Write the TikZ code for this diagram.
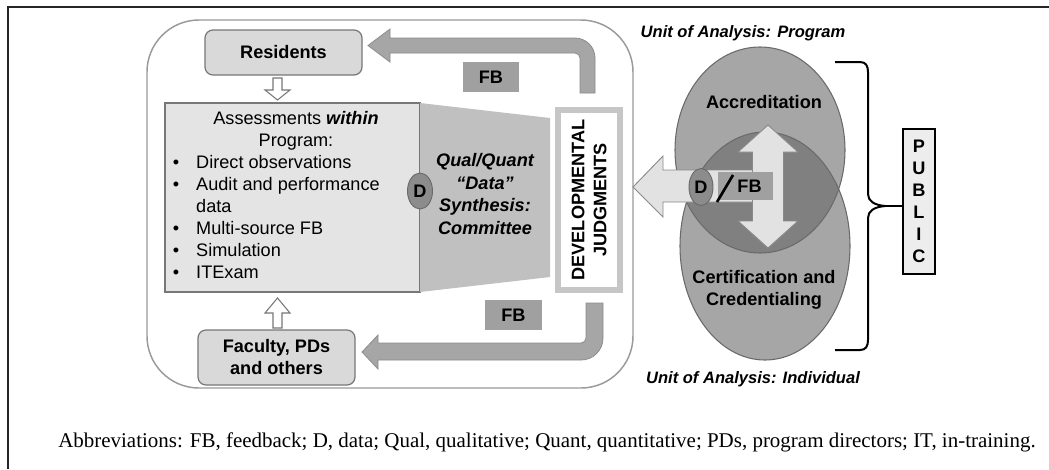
\documentclass[tikz,border=0pt]{standalone}
\usepackage{fontspec}
\usepackage{graphicx}
\usetikzlibrary{shapes.geometric}
\newfontfamily\arial{Liberation Sans}
\newfontfamily\timesf{Liberation Serif}
\definecolor{boxfill}{HTML}{D9D9D9}
\definecolor{assessfill}{HTML}{E4E4E4}
\definecolor{trapfill}{HTML}{C0C0C0}
\definecolor{arrowgray}{HTML}{A6A6A6}
\definecolor{arrowedge}{HTML}{8C8C8C}
\definecolor{fbfill}{HTML}{A0A0A0}
\definecolor{ellfill}{HTML}{A6A6A6}
\definecolor{ellover}{HTML}{808080}
\definecolor{ellline}{HTML}{6A6A6A}
\definecolor{dfill}{HTML}{8C8C8C}
\definecolor{edgegray}{HTML}{777777}
\definecolor{framegray}{HTML}{9A9A9A}
\definecolor{djgray}{HTML}{C6C6C6}
\definecolor{lightarrowfill}{HTML}{E2E2E2}
\definecolor{lightedge}{HTML}{8A8A8A}
\definecolor{publicfill}{HTML}{EDEDED}
\begin{document}
\begin{tikzpicture}[x=0.75pt,y=-0.75pt,
  sans/.style={font={\arial\fontsize{13.6}{16.5}\selectfont}},
  bsans/.style={font={\arial\bfseries\fontsize{13.6}{16.5}\selectfont}},
  bisans/.style={font={\arial\bfseries\itshape\fontsize{13.6}{17}\selectfont}},
  unitlbl/.style={font={\arial\bfseries\itshape\fontsize{12.4}{15}\selectfont}},
  actor/.style={draw=edgegray, fill=boxfill, rounded corners=6pt, line width=0.9pt,
    minimum width=117.75pt, inner sep=0, align=center, bsans},
  fbbox/.style={fill=fbfill, inner sep=0, minimum height=22.5pt, bsans},
  fbarrow/.style={fill=arrowgray, draw=arrowedge, line width=0.6pt},
  hollow/.style={fill=white, draw=edgegray, line width=0.8pt},
  lightarrow/.style={fill=lightarrowfill, draw=lightedge, line width=0.7pt},
  dmark/.style={ellipse, fill=dfill, draw=ellline, line width=0.7pt, inner sep=0, bsans},
  ellstyle/.style={draw=ellline, line width=0.8pt}
]
\useasboundingbox (0,0) rectangle (1049,469);
% outer frame (cropped)
\draw[line width=1.5pt, black!85] (8,469) -- (8,7) -- (1049,7);

% program frame
\node[draw=framegray, line width=1.1pt, fill=white, rounded corners=39pt,
      minimum width=364.5pt, minimum height=276pt, inner sep=0] (prog) at (390,204) {};

% FB arrows (feedback)
\filldraw[fbarrow] (580,93) -- (580,58) .. controls (580,55.2) and (577.8,53) .. (575,53)
  -- (390,53) -- (390,62) -- (368,45.5) -- (390,29) -- (390,38) -- (575,38)
  .. controls (586,38) and (595,47) .. (595,58) -- (595,93) -- cycle;
\filldraw[fbarrow] (586,303) -- (586,338) .. controls (586,340.8) and (583.8,343) .. (581,343)
  -- (378,343) -- (378,335) -- (362,352) -- (378,369) -- (378,360) -- (581,360)
  .. controls (593.2,360) and (603,350.2) .. (603,338) -- (603,303) -- cycle;

% actors
\node[actor, minimum height=33.75pt] (res) at (283.5,52.5) {Residents};
\node[actor, minimum height=41.25pt] (fac) at (276.5,357.5) {Faculty, PDs\\and others};

% assessments box
\node[draw=edgegray, fill=assessfill, line width=0.8pt, minimum width=191.25pt,
      minimum height=141.75pt, inner sep=0] (assess) at (292.5,197.5) {};
% synthesis trapezoid
\fill[trapfill] (420,103) -- (550,118) -- (550,277) -- (420,292) -- cycle;

% hollow arrows
\filldraw[hollow] (273,78) -- (282,78) -- (282,90) -- (290,90) -- (277.5,100) -- (265,90) -- (273,90) -- cycle;
\filldraw[hollow] (273,328) -- (282,328) -- (282,313) -- (290,313) -- (277.5,298) -- (265,313) -- (273,313) -- cycle;

\node[sans, align=center, inner sep=0] (ahead) at (296,131)
  {Assessments \textbf{\textit{within}}\\Program:};
\node[sans, anchor=west, inner sep=0] (alist) at (172.5,219)
  {\begin{tabular}{@{}p{17.6pt}@{}l@{}}
   \textbullet & Direct observations\\
   \textbullet & Audit and performance\\
    & data\\
   \textbullet & Multi-source FB\\
   \textbullet & Simulation\\
   \textbullet & ITExam
   \end{tabular}};

\node[dmark, minimum width=18.75pt, minimum height=27pt] (d1) at (420,191) {D};
\node[bisans, align=center, inner sep=0] (synth) at (485,194)
  {Qual/Quant\\“Data”\\Synthesis:\\Committee};

% developmental judgments
\node[rotate=90, draw=djgray, line width=4.5pt, fill=white, minimum width=135pt,
      minimum height=46.5pt, align=center, inner sep=0, bsans] (dj) at (589,200)
  {DEVELOPMENTAL\\JUDGMENTS};

\node[fbbox, minimum width=42pt] (fb1) at (491,77) {FB};
\node[fbbox, minimum width=42.75pt] (fb2) at (513.5,315) {FB};

% ellipses
\fill[ellfill] (760,150) ellipse [x radius=63.75pt, y radius=77.25pt];
\fill[ellfill] (765,246) ellipse [x radius=63.75pt, y radius=85.5pt];
\begin{scope}
  \clip (760,150) ellipse [x radius=63.75pt, y radius=77.25pt];
  \fill[ellover] (765,246) ellipse [x radius=63.75pt, y radius=85.5pt];
\end{scope}
\draw[ellstyle] (760,150) ellipse [x radius=63.75pt, y radius=77.25pt];
\draw[ellstyle] (765,246) ellipse [x radius=63.75pt, y radius=85.5pt];

% left arrow to judgments
\filldraw[lightarrow] (633,187) -- (663,156) -- (663,170) -- (760,170) -- (760,202)
  -- (663,202) -- (663,217) -- cycle;
% double vertical arrow
\filldraw[lightarrow] (768,125) -- (798,152) -- (783.5,152) -- (783.5,221) -- (798,221)
  -- (768,248) -- (738,221) -- (752.5,221) -- (752.5,152) -- (738,152) -- cycle;

\node[fbbox, minimum width=41.25pt, minimum height=21pt] (fb3) at (745.5,186) {\hspace*{6pt}FB};
\node[dmark, minimum width=18pt, minimum height=27.75pt] (d2) at (701,187) {D};
\coordinate (s1) at (717,202);
\coordinate (s2) at (733,175);
\draw[line width=2pt, black] (s1) -- (s2);

\node[bsans, inner sep=0] (accr) at (764,102) {Accreditation};
\node[bsans, align=center, inner sep=0] (cert) at (764,290) {Certification and\\Credentialing};

\node[unitlbl, inner sep=0] (uprog) at (743,33) {Unit of Analysis: Program};
\node[unitlbl, inner sep=0] (uind) at (753,379) {Unit of Analysis: Individual};

% public
\node[draw=black, line width=1.2pt, fill=publicfill, minimum width=24pt,
      minimum height=108.75pt, inner sep=0, align=center, bsans] (public) at (919,201.5)
  {P\\U\\B\\L\\I\\C};
\coordinate (bt) at (885,206);
\draw[line width=1.5pt, black] (835,62) -- (860,62) .. controls (866,62) and (868,66) .. (868,72)
  -- (868,194) .. controls (868,201) and (874,205) .. (bt)
  .. controls (874,207) and (868,211) .. (868,218) -- (868,340)
  .. controls (868,346) and (866,350) .. (860,350) -- (835,350);
\draw[line width=1.5pt, black] (bt) -- (public.west |- bt);

% abbreviations
\node[anchor=base west, inner sep=0] (abbr) at (58,447)
  {\resizebox{733pt}{!}{\timesf\fontsize{14}{16}\selectfont Abbreviations: FB, feedback; D, data; Qual, qualitative; Quant, quantitative; PDs, program directors; IT, in-training.}};
\end{tikzpicture}
\end{document}
